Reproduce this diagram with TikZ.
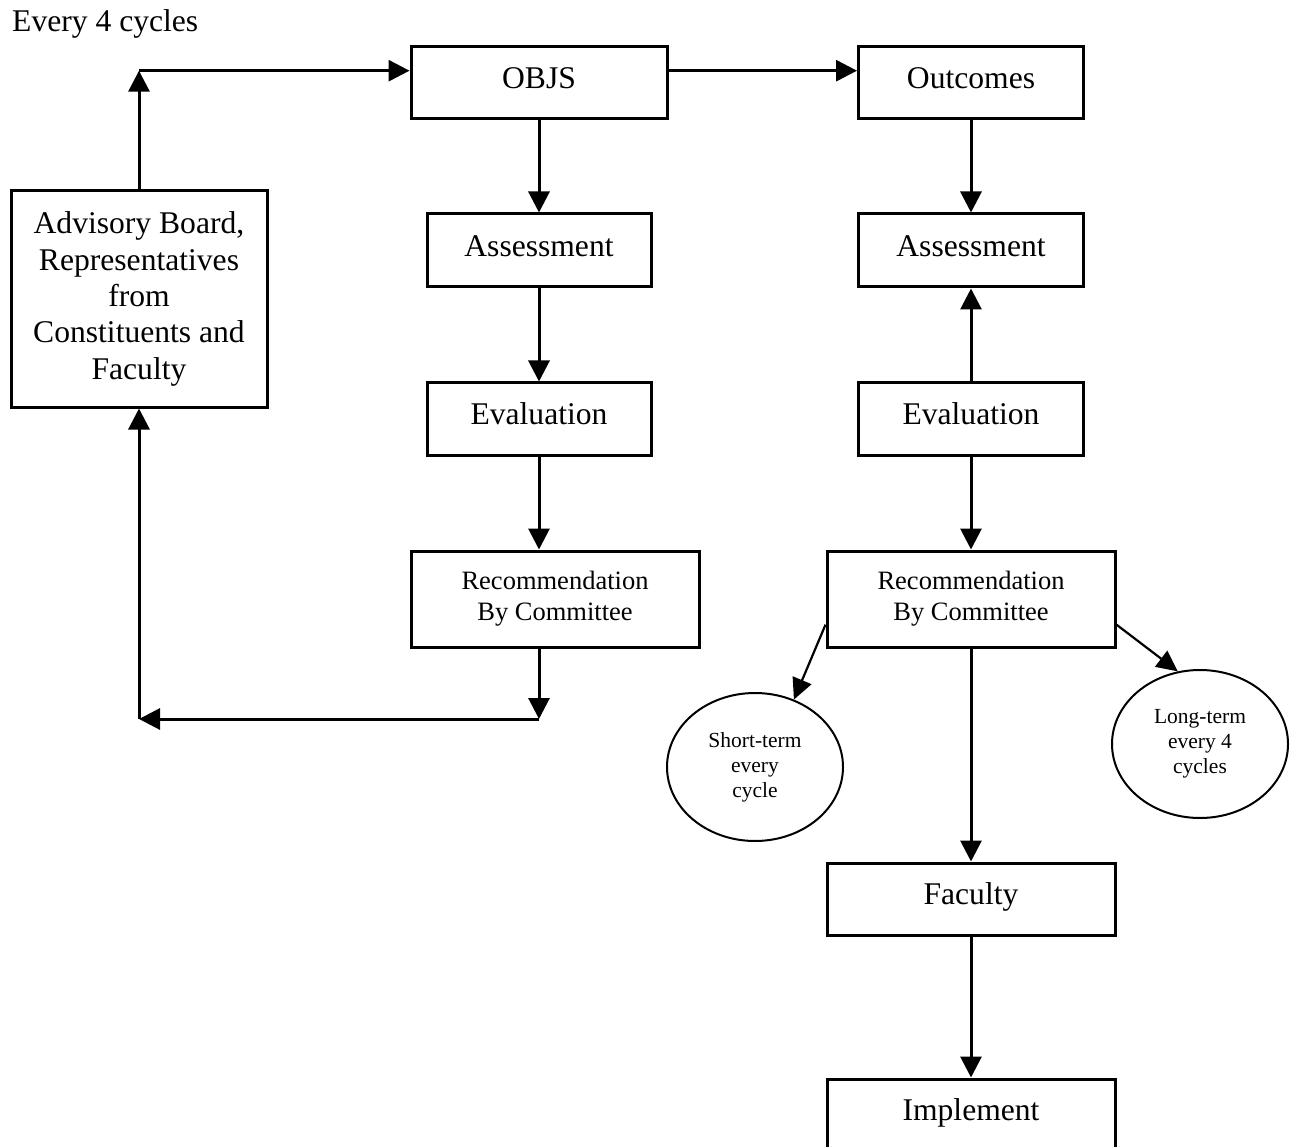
\documentclass[tikz,border=0pt]{standalone}
\usepackage{fontspec}
\setmainfont{Liberation Serif}
\usetikzlibrary{arrows.meta,shapes.geometric}

\begin{document}
\begin{tikzpicture}[x=1pt,y=-1pt,
  box/.style={draw,line width=3pt,rectangle,inner sep=0pt,
    font=\fontsize{31.6}{36.3}\selectfont},
  onebox/.style={box,text height=23.7pt,text depth=12.6pt},
  recbox/.style={draw,line width=3pt,rectangle,inner sep=0pt,align=center,
    minimum width=288pt,minimum height=96pt,
    font=\fontsize{26.5}{31}\selectfont},
  oval/.style={draw,ellipse,line width=2pt,inner sep=0pt,
    minimum width=176pt,minimum height=148pt,align=center,
    font=\fontsize{21.5}{25}\selectfont},
  flow/.style={line width=3pt,-{Triangle[length=21pt,width=21pt]}},
  thinflow/.style={line width=2.2pt,-{Triangle[length=21pt,width=20pt]}}
]
% page area
\fill[white] (0,0) rectangle (1293,1147);
\useasboundingbox (0,0) rectangle (1293,1147);

% caption
\node[anchor=base west,inner sep=0pt,font=\fontsize{31.6}{36}\selectfont]
  (every) at (12,32) {Every 4 cycles};

% top row
\node[onebox,minimum width=256pt,minimum height=72pt] (objs) at (539,83) {OBJS};
\node[onebox,minimum width=225pt,minimum height=72pt] (outc) at (971,83) {Outcomes};

% advisory board
\node[box,align=center,minimum width=256pt,minimum height=216pt] (adv) at (139,299)
  {Advisory Board,\\Representatives\\from\\Constituents and\\Faculty};

% left column
\node[onebox,minimum width=224pt,minimum height=73pt] (assL) at (539,250.5) {Assessment};
\node[onebox,minimum width=224pt,minimum height=72pt] (evalL) at (539,419) {Evaluation};
\node[recbox] (recL) at (555,599) {Recommendation\\By Committee};

% right column
\node[onebox,minimum width=225pt,minimum height=73pt] (assR) at (971,250.5) {Assessment};
\node[onebox,minimum width=225pt,minimum height=72pt] (evalR) at (971,419) {Evaluation};
\node[recbox] (recR) at (971,599) {Recommendation\\By Committee};
\node[onebox,minimum width=288pt,minimum height=72pt] (fac) at (971,899) {Faculty};
\node[onebox,minimum width=288pt,minimum height=72pt] (impl) at (971,1115) {Implement};

% review periods
\node[oval] (st) at (755,767) {Short-term\\every\\cycle};
\node[oval] (lt) at (1200,744) {Long-term\\every 4\\cycles};

% feedback loop corners
\coordinate (topL) at (139,70.7);
\coordinate (botR) at (539,719);
\coordinate (botL) at (139,719);

% connectors
\draw[flow] (adv.north) -- (topL);
\draw[flow] (topL) -- (topL -| objs.west);
\draw[flow] (topL -| objs.east) -- (topL -| outc.west);

\draw[flow] (objs.south) -- (assL.north);
\draw[flow] (assL.south) -- (evalL.north);
\draw[flow] (evalL.south) -- (evalL.south |- recL.north);
\draw[flow] (evalL.south |- recL.south) -- (botR);
\draw[flow] (botR) -- (botL);
\draw[flow] (botL) -- (adv.south);

\draw[flow] (outc.south) -- (assR.north);
\draw[flow] (evalR.north) -- (assR.south);
\draw[flow] (evalR.south) -- (recR.north);
\draw[flow] (recR.south) -- (fac.north);
\draw[flow] (fac.south) -- (impl.north);

\draw[thinflow] (recR.190) -- (st.60);
\draw[thinflow] (recR.350) -- (lt.107);
\end{tikzpicture}
\end{document}
